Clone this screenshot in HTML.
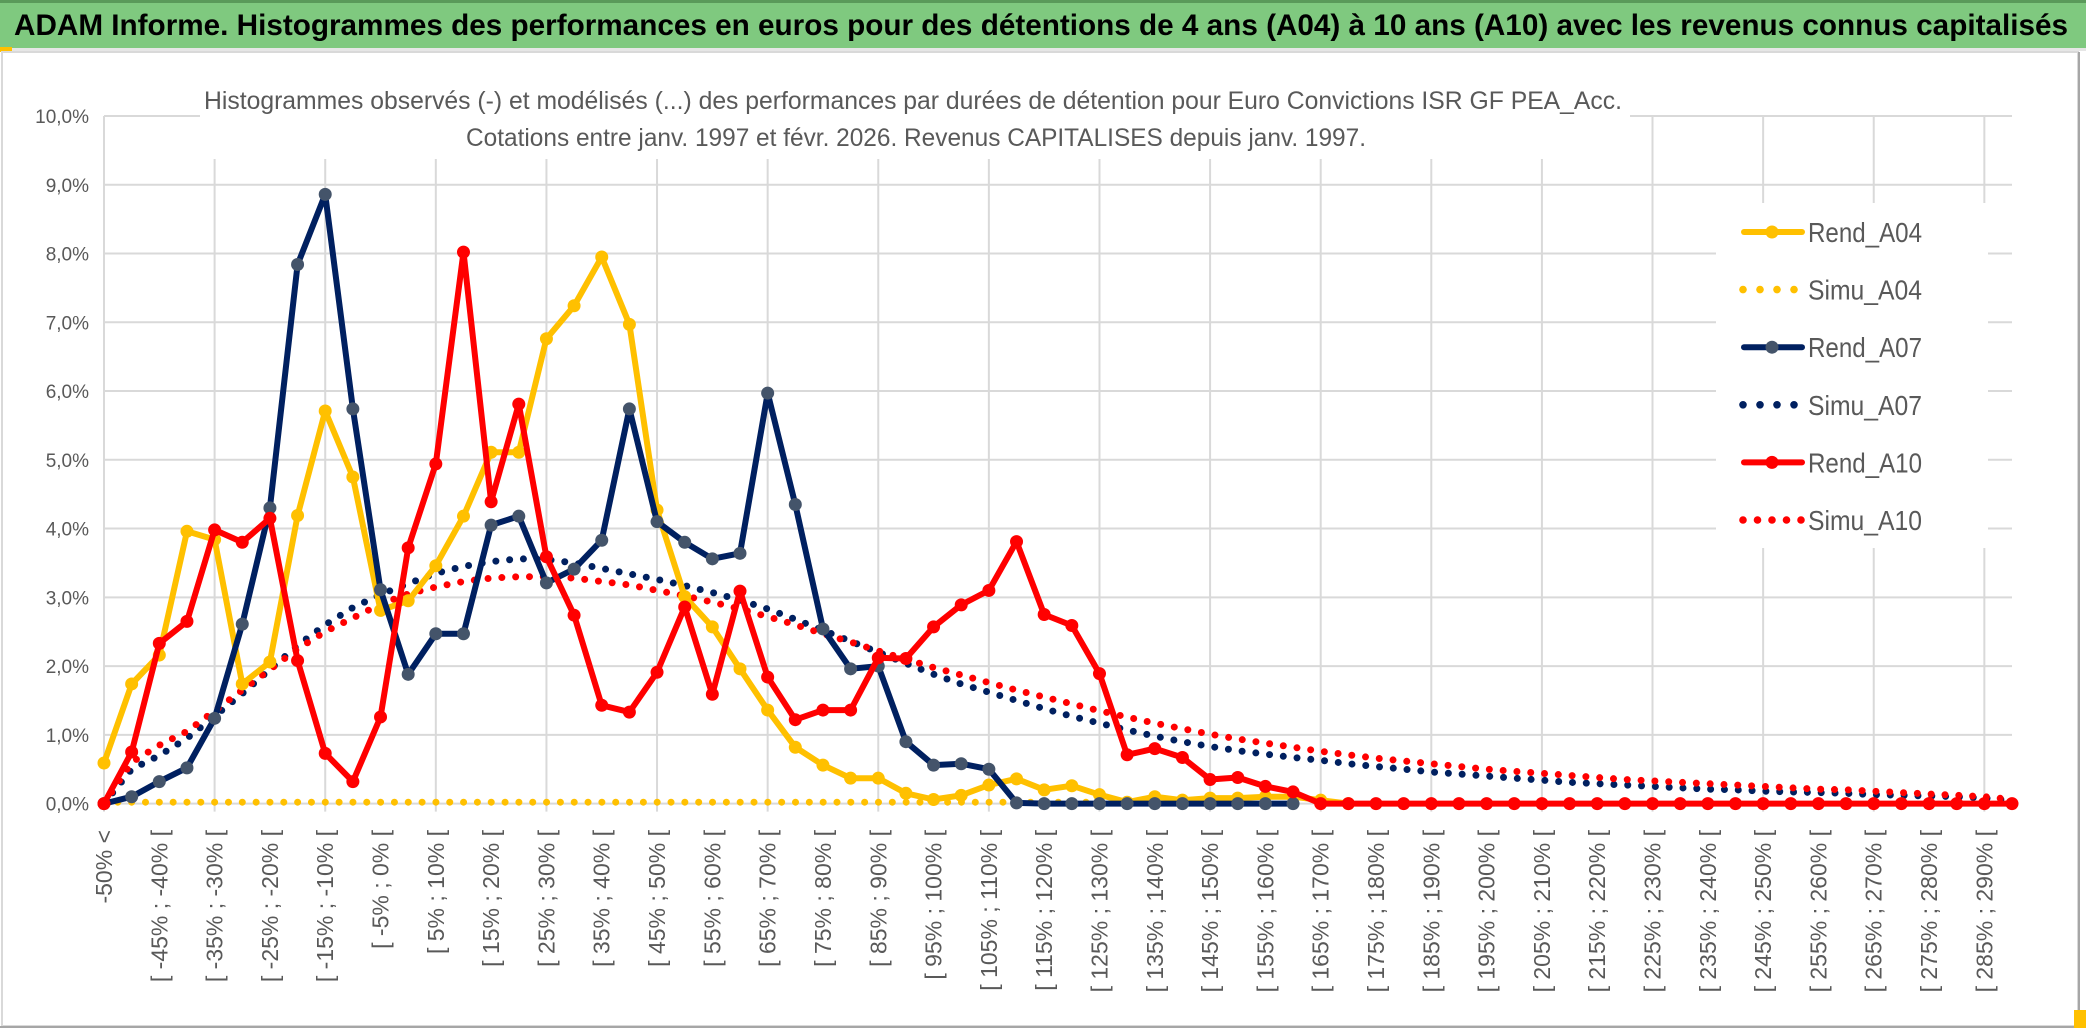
<!DOCTYPE html>
<html><head><meta charset="utf-8"><style>
html,body{margin:0;padding:0;background:#fff;}
svg{display:block;}
text{font-family:"Liberation Sans",sans-serif;}
</style></head><body>
<svg id="chart" width="2086" height="1031" viewBox="0 0 2086 1031" xmlns="http://www.w3.org/2000/svg">
<rect x="0" y="0" width="2086" height="1031" fill="#fff"/>
<rect x="0" y="0" width="2086" height="50" fill="#7fc97f"/>
<rect x="0" y="0" width="2086" height="3" fill="#5a9a5a"/>
<rect x="0" y="48" width="2086" height="3" fill="#e6e6e6"/>
<rect x="0" y="47" width="12" height="5" fill="#ffc000"/>
<text x="14" y="35" font-size="30" font-weight="bold" fill="#000" textLength="2054" lengthAdjust="spacingAndGlyphs">ADAM Informe. Histogrammes des performances en euros pour des détentions de 4 ans (A04) à 10 ans (A10) avec les revenus connus capitalisés</text>
<rect x="2" y="52" width="2076" height="974" fill="none" stroke="#d9d9d9" stroke-width="2"/>
<rect x="2078" y="52" width="2" height="975" fill="#a6a6a6"/>
<rect x="0" y="1026" width="2086" height="2" fill="#a6a6a6"/>
<rect x="2074" y="1010" width="12" height="18" fill="#ffc000"/>
<g id="grid"></g>
<g id="ylabels"></g>
<g id="xlabels"></g>
<rect x="200" y="70" width="1430" height="89" fill="#fff"/>
<text x="204" y="109" font-size="25" fill="#595959" textLength="1418" lengthAdjust="spacingAndGlyphs">Histogrammes observés (-) et modélisés (...) des performances par durées de détention pour Euro Convictions ISR GF PEA_Acc.</text>
<text x="466" y="146" font-size="25" fill="#595959" textLength="900" lengthAdjust="spacingAndGlyphs">Cotations entre janv. 1997 et févr. 2026. Revenus CAPITALISES depuis janv. 1997.</text>
<g id="series"></g>
<rect x="1716" y="203" width="272" height="345" fill="#fff"/>
<g id="legend"></g>
</svg>
<script>
const categories = (function(){const c=["-50% <"];for(let k=0;k<69;k++){const a=-50+5*k,b=-45+5*k;c.push("[ "+a+"% ; "+b+"% [");}return c;})();
const yTicks = [0,1,2,3,4,5,6,7,8,9,10];
const yTickLabels = ["0,0%","1,0%","2,0%","3,0%","4,0%","5,0%","6,0%","7,0%","8,0%","9,0%","10,0%"];
const rendA04 = [0.59,1.74,2.16,3.96,3.84,1.74,2.06,4.19,5.71,4.75,2.81,2.95,3.46,4.18,5.11,5.11,6.76,7.24,7.95,6.97,4.27,3.01,2.57,1.96,1.36,0.82,0.56,0.37,0.37,0.15,0.06,0.12,0.27,0.36,0.2,0.26,0.13,0.02,0.1,0.05,0.08,0.08,0.1,0.1,0.05,0.0];
const simuA04 = [0.02,0.02,0.02,0.02,0.02,0.02,0.02,0.02,0.02,0.02,0.02,0.02,0.02,0.02,0.02,0.02,0.02,0.02,0.02,0.02,0.02,0.02,0.02,0.02,0.02,0.02,0.02,0.02,0.02,0.02,0.02,0.02,0.02,0.02,0.02,0.02,0.02,0.02,0.02,0.02,0.02];
const rendA07 = [0,0.1,0.32,0.52,1.24,2.61,4.3,7.84,8.86,5.74,3.11,1.88,2.47,2.47,4.05,4.18,3.21,3.41,3.83,5.74,4.1,3.8,3.56,3.64,5.97,4.35,2.54,1.96,2.0,0.9,0.56,0.58,0.5,0.01,0,0,0,0,0,0,0,0,0,0];
const simuA07 = [0,0.5,0.7,0.95,1.27,1.6,1.95,2.3,2.6,2.85,3.04,3.2,3.35,3.45,3.52,3.56,3.55,3.5,3.42,3.34,3.26,3.17,3.07,2.96,2.83,2.68,2.52,2.36,2.2,2.04,1.88,1.74,1.62,1.5,1.38,1.27,1.17,1.07,0.98,0.9,0.83,0.77,0.72,0.67,0.63,0.58,0.54,0.5,0.46,0.43,0.40,0.37,0.34,0.31,0.29,0.27,0.25,0.23,0.21,0.2,0.18,0.17,0.16,0.15,0.13,0.12,0.11,0.1,0.08,0.05];
const rendA10 = [0,0.75,2.33,2.65,3.98,3.8,4.15,2.08,0.73,0.32,1.26,3.72,4.94,8.02,4.39,5.81,3.59,2.74,1.43,1.33,1.91,2.86,1.59,3.09,1.84,1.22,1.36,1.36,2.12,2.11,2.57,2.89,3.1,3.81,2.75,2.59,1.89,0.71,0.8,0.67,0.35,0.38,0.25,0.17,0,0,0,0,0,0,0,0,0,0,0,0,0,0,0,0,0,0,0,0,0,0,0,0,0,0];
const simuA10 = [0,0.6,0.85,1.05,1.35,1.65,1.95,2.25,2.5,2.7,2.9,3.05,3.15,3.23,3.28,3.3,3.3,3.28,3.23,3.18,3.1,3.02,2.93,2.83,2.72,2.6,2.47,2.35,2.22,2.1,1.98,1.87,1.76,1.65,1.55,1.45,1.35,1.26,1.17,1.09,1.01,0.94,0.88,0.82,0.76,0.71,0.66,0.62,0.58,0.54,0.5,0.47,0.44,0.41,0.38,0.35,0.33,0.31,0.29,0.27,0.25,0.23,0.21,0.2,0.18,0.16,0.14,0.12,0.1,0.06];
const seriesNames = ["Rend_A04","Simu_A04","Rend_A07","Simu_A07","Rend_A10","Simu_A10"];

const NS="http://www.w3.org/2000/svg";
const X0=104, XSTEP=(2012-104)/69, Y0=803.6, YUNIT=68.76;
function xScale(i){return X0+i*XSTEP;}
function yScale(v){return Y0-v*YUNIT;}
function mk(tag,attrs,parent){const e=document.createElementNS(NS,tag);for(const k in attrs)e.setAttribute(k,attrs[k]);parent.appendChild(e);return e;}

const grid=document.getElementById('grid');
yTicks.forEach(function(t){
  const y=yScale(t);
  const x1 = t===10 ? X0 : X0;
  const l=mk('line',{x1:x1,x2:2012,y1:y,y2:y,stroke:'#d9d9d9','stroke-width':2},grid);
  
  
});
for(let i=0;i<categories.length;i+=4){
  const x=xScale(i);
  const l=mk('line',{x1:x,x2:x,y1:yScale(10),y2:yScale(0)+8,stroke:'#d9d9d9','stroke-width':2},grid);
  
  
}
const yl=document.getElementById('ylabels');
yTicks.forEach(function(t,k){
  const e=mk('text',{x:89,y:yScale(t)+7,'font-size':19,fill:'#595959','text-anchor':'end'},yl);
  e.textContent=yTickLabels[k];
  
  
});
const xl=document.getElementById('xlabels');
for(let i=0;i<categories.length;i+=2){
  const x=xScale(i)+8;
  const e=mk('text',{x:0,y:0,'font-size':23,fill:'#595959','text-anchor':'end',transform:'translate('+x+',830) rotate(-90)'},xl);
  e.textContent=categories[i];
  
  
}
const sg=document.getElementById('series');
function pts(arr){return arr.map(function(v,i){return xScale(i).toFixed(1)+','+yScale(v).toFixed(1);}).join(' ');}
function dotted(arr,color,name){
  const p=mk('polyline',{points:pts(arr),fill:'none',stroke:color,'stroke-width':7,'stroke-linecap':'round','stroke-dasharray':'0 '+(XSTEP/2).toFixed(2)},sg);
  
  
}
function solid(arr,color,mcolor,name){
  const g=mk('g',{},sg);
  
  
  mk('polyline',{points:pts(arr),fill:'none',stroke:color,'stroke-width':6,'stroke-linejoin':'round'},g);
  arr.forEach(function(v,i){
    const c=mk('circle',{cx:xScale(i),cy:yScale(v),r:6.5,fill:mcolor},g);
    
    
  });
}
dotted(simuA04,'#ffc000','series-simu-a04');
dotted(simuA07,'#002060','series-simu-a07');
dotted(simuA10,'#ff0000','series-simu-a10');
solid(rendA04,'#ffc000','#ffc000','series-rend-a04');
solid(rendA07,'#002060','#44546a','series-rend-a07');
solid(rendA10,'#ff0000','#ff0000','series-rend-a10');

const lg=document.getElementById('legend');
const lstyle=[['#ffc000',false,'#ffc000'],['#ffc000',true],['#002060',false,'#44546a'],['#002060',true],['#ff0000',false,'#ff0000'],['#ff0000',true]];
seriesNames.forEach(function(n,k){
  const y=232+k*57.6;
  const g=mk('g',{},lg);
  
  
  const s=lstyle[k];
  if(s[1]){
    const cnt = k===5?5:4;
    for(let d=0;d<cnt;d++) mk('circle',{cx:1743+d*(k===5?14.5:17),cy:y,r:3.8,fill:s[0]},g);
  } else {
    mk('line',{x1:1744,x2:1802,y1:y,y2:y,stroke:s[0],'stroke-width':6,'stroke-linecap':'round'},g);
    mk('circle',{cx:1772,cy:y,r:6.5,fill:s[2]},g);
  }
  const t=mk('text',{x:1808,y:y+10,'font-size':28,fill:'#595959',textLength:114,lengthAdjust:'spacingAndGlyphs'},g);
  t.textContent=n;
});
</script>
</body></html>
